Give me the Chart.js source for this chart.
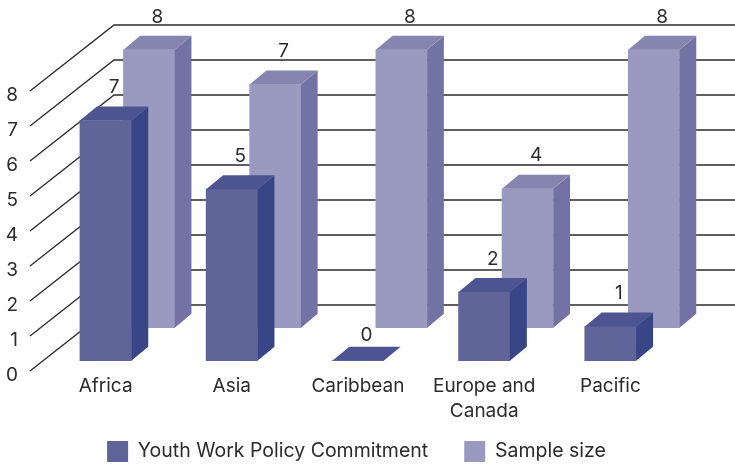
<!DOCTYPE html>
<html>
<head>
<meta charset="utf-8">
<title>Youth Work Policy Commitment</title>
<script src="https://cdn.jsdelivr.net/npm/chart.js@4/dist/chart.umd.js"></script>
<style>
  body { margin: 0; background: #fff; }
  canvas { display: block; }
</style>
</head>
<body>
<canvas id="chart" width="735" height="468"></canvas>
<script>
const categories = ['Africa', 'Asia', 'Caribbean', ['Europe and', 'Canada'], 'Pacific'];
const policyValues = [7, 5, 0, 2, 1];
const sampleValues = [8, 7, 8, 4, 8];

const FONT = 'Inter';
const TEXT = '#2b2b2b';

// per dataset: where the series sits in the fake depth, and its three face colours
const depth = [
  { dx: 12.5, dy: -12.3, side: '#384688', top: '#4c5591', sideW: 17, sideH: 14 },
  { dx: 56, dy: -45.3, side: '#7372a4', top: '#8685b0', sideW: 16.7, sideH: 14 }
];

const wall = { dx: 84, dy: -66, lift: -2 };

const gridPlugin = {
  id: 'grid3d',
  beforeDatasetsDraw(chart) {
    const { ctx, scales: { y }, chartArea } = chart;
    ctx.save();
    ctx.strokeStyle = '#2a2a2a';
    ctx.lineWidth = 1.3;
    y.ticks.forEach(t => {
      const py = y.getPixelForValue(t.value) + wall.lift;
      ctx.beginPath();
      ctx.moveTo(chartArea.left, py);
      ctx.lineTo(chartArea.left + wall.dx, py + wall.dy);
      ctx.lineTo(chart.width, py + wall.dy);
      ctx.stroke();
    });
    ctx.restore();
  }
};

// shifts each series back and adds side, top and value label to the library's bars
const barsPlugin = {
  id: 'bars3d',
  beforeDatasetDraw(chart, args) {
    const d = depth[args.index];
    chart.ctx.save();
    chart.ctx.translate(d.dx, d.dy);
  },
  afterDatasetDraw(chart, args) {
    const { ctx } = chart;
    const d = depth[args.index];
    const values = chart.data.datasets[args.index].data;
    args.meta.data.forEach((bar, i) => {
      const { x, y, base, width } = bar.getProps(['x', 'y', 'base', 'width'], true);
      const right = x + width / 2, left = x - width / 2;
      ctx.fillStyle = d.side;
      ctx.beginPath();
      ctx.moveTo(right, y);
      ctx.lineTo(right + d.sideW, y - d.sideH);
      ctx.lineTo(right + d.sideW, base - d.sideH);
      ctx.lineTo(right, base);
      ctx.closePath();
      ctx.fill();
      ctx.fillStyle = d.top;
      ctx.beginPath();
      ctx.moveTo(left, y);
      ctx.lineTo(left + d.sideW, y - d.sideH);
      ctx.lineTo(right + d.sideW, y - d.sideH);
      ctx.lineTo(right, y);
      ctx.closePath();
      ctx.fill();
      ctx.fillStyle = TEXT;
      ctx.font = '19px ' + FONT;
      ctx.textAlign = 'center';
      ctx.textBaseline = 'middle';
      const gap = values[i] === 0 ? 11 : 19;
      ctx.fillText(values[i], x + d.sideW / 2, y - d.sideH - gap);
    });
    ctx.restore();
  }
};

// the legend is centred on the bars, not on the plot; the x axis clips
// its labels to its own box, so that box has to reach the second line
const layoutFix = {
  id: 'layoutFix',
  afterLayout(chart) {
    chart.legend.left += 26;
    chart.legend.right += 26;
    chart.legend.top += 6;
    chart.legend.bottom += 6;
    chart.scales.x.bottom = chart.scales.x.top + 60;
  }
};

new Chart(document.getElementById('chart'), {
  type: 'bar',
  data: {
    labels: categories,
    datasets: [
      {
        label: 'Youth Work Policy Commitment',
        data: policyValues,
        backgroundColor: '#5f6499',
        yAxisID: 'yFront',
        clip: false
      },
      {
        label: 'Sample size',
        data: sampleValues,
        backgroundColor: '#9a99bf',
        yAxisID: 'yBack',
        clip: false
      }
    ]
  },
  options: {
    responsive: false,
    animation: false,
    grouped: false,
    barThickness: 51.3,
    layout: { padding: { top: 93, right: 74, bottom: 2, left: 0 } },
    plugins: {
      tooltip: { enabled: false },
      legend: {
        position: 'bottom',
        labels: {
          boxWidth: 21,
          boxHeight: 21,
          padding: 36,
          color: TEXT,
          font: { family: FONT, size: 19.5 }
        }
      }
    },
    scales: {
      x: {
        grid: { display: false, drawTicks: false },
        border: { display: false },
        afterFit(scale) { scale.height = 26; },
        ticks: {
          color: TEXT,
          font: { family: FONT, size: 19, lineHeight: 1.3 },
          labelOffset: 12.5,
          maxRotation: 0,
          autoSkip: false,
          padding: 1
        }
      },
      y: {
        min: 0,
        max: 8,
        grid: { display: false, drawTicks: false },
        border: { display: false },
        afterFit(scale) { scale.width = 30; },
        ticks: {
          stepSize: 1,
          color: TEXT,
          font: { family: FONT, size: 19 },
          padding: 12,
          labelOffset: 2
        }
      },
      yFront: { display: false, min: 0, max: 8.16 },
      yBack: { display: false, min: 0, max: 8.06 }
    }
  },
  plugins: [gridPlugin, barsPlugin, layoutFix]
});
</script>
</body>
</html>
